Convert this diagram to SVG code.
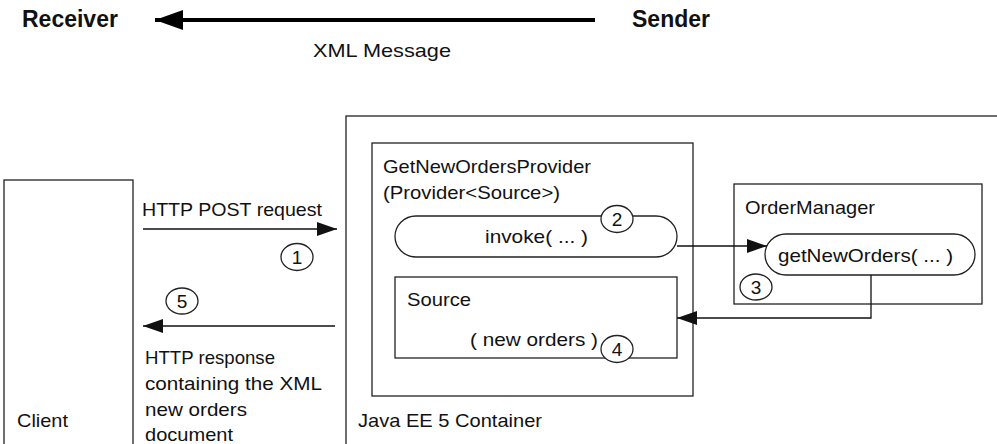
<svg xmlns="http://www.w3.org/2000/svg" width="997" height="444" viewBox="0 0 997 444">
<style>
text{font-family:"Liberation Sans",Arial,sans-serif;font-size:19px;fill:#111}
.b{font-weight:bold;font-size:23px}
.n{text-anchor:middle;font-size:19px}
.box{fill:none;stroke:#222;stroke-width:1.3}
.num{fill:#fff;stroke:#222;stroke-width:1.3}
.ln{fill:none;stroke:#111;stroke-width:1.3}
</style>
<defs>
<marker id="ah" viewBox="0 0 20 14" refX="20" refY="7" markerWidth="20" markerHeight="14" markerUnits="userSpaceOnUse" orient="auto">
<path d="M0,0 L20,7 L0,14 Z" fill="#111"/>
</marker>
<marker id="ahb" viewBox="0 0 28 20" refX="28" refY="10" markerWidth="28" markerHeight="20" markerUnits="userSpaceOnUse" orient="auto">
<path d="M0,0 L28,10 L0,20 Z" fill="#000"/>
</marker>
</defs>
<rect width="997" height="444" fill="#fff"/>

<g id="legend">
<text class="b" x="22" y="27">Receiver</text>
<text class="b" x="632" y="27">Sender</text>
<text x="313" y="57" textLength="138" lengthAdjust="spacingAndGlyphs">XML Message</text>
</g>

<g id="container">
<rect class="box" x="346" y="116" width="660" height="340"/>
<text x="358" y="427" textLength="184" lengthAdjust="spacingAndGlyphs">Java EE 5 Container</text>
</g>

<g id="client">
<rect class="box" x="4" y="180" width="129" height="280"/>
<text x="17" y="427" textLength="51" lengthAdjust="spacingAndGlyphs">Client</text>
</g>

<g id="provider">
<rect class="box" x="372" y="143" width="321" height="253"/>
<text x="383" y="173" textLength="208" lengthAdjust="spacingAndGlyphs">GetNewOrdersProvider</text>
<text x="383" y="199" textLength="177" lengthAdjust="spacingAndGlyphs">(Provider&lt;Source&gt;)</text>
</g>

<g id="invoke">
<rect class="box" x="395" y="216" width="282" height="41" rx="21" ry="20.5"/>
<text x="485" y="243" textLength="103" lengthAdjust="spacingAndGlyphs">invoke( ... )</text>
</g>

<g id="source">
<rect class="box" x="395" y="277" width="282" height="81"/>
<text x="407" y="306" textLength="64" lengthAdjust="spacingAndGlyphs">Source</text>
<text x="470" y="346" textLength="128" lengthAdjust="spacingAndGlyphs">( new orders )</text>
</g>

<g id="ordermanager">
<rect class="box" x="734" y="184" width="248" height="120"/>
<text x="745" y="214" textLength="130" lengthAdjust="spacingAndGlyphs">OrderManager</text>
</g>

<g id="getneworders">
<rect class="box" x="765" y="234" width="210" height="41" rx="21" ry="20.5"/>
<text x="778" y="262" textLength="175" lengthAdjust="spacingAndGlyphs">getNewOrders( ... )</text>
</g>

<g id="connectors">
<line x1="595" y1="20" x2="155" y2="20" stroke="#000" stroke-width="4" marker-end="url(#ahb)"/>
<line class="ln" x1="143" y1="229" x2="337" y2="229" marker-end="url(#ah)"/>
<line class="ln" x1="335" y1="326" x2="143" y2="326" marker-end="url(#ah)"/>
<line class="ln" x1="677" y1="246" x2="767" y2="246" marker-end="url(#ah)"/>
<path class="ln" d="M871,275 V318 H677" marker-end="url(#ah)"/>
<text x="142" y="216" textLength="180" lengthAdjust="spacingAndGlyphs">HTTP POST request</text>
<text x="145" y="364" textLength="130" lengthAdjust="spacingAndGlyphs">HTTP response</text>
<text x="145" y="390" textLength="177" lengthAdjust="spacingAndGlyphs">containing the XML</text>
<text x="145" y="416" textLength="102" lengthAdjust="spacingAndGlyphs">new orders</text>
<text x="145" y="441" textLength="88" lengthAdjust="spacingAndGlyphs">document</text>
</g>

<g id="step1"><ellipse class="num" cx="297" cy="257" rx="16" ry="13.5"/><text class="n" x="297" y="264">1</text></g>
<g id="step2"><ellipse class="num" cx="617" cy="219" rx="16" ry="13.5"/><text class="n" x="617" y="226">2</text></g>
<g id="step3"><ellipse class="num" cx="756" cy="287" rx="16" ry="13"/><text class="n" x="756" y="294">3</text></g>
<g id="step4"><ellipse class="num" cx="617" cy="349" rx="16" ry="13.5"/><text class="n" x="617" y="356">4</text></g>
<g id="step5"><ellipse class="num" cx="182" cy="301" rx="16" ry="13"/><text class="n" x="182" y="308">5</text></g>
</svg>
